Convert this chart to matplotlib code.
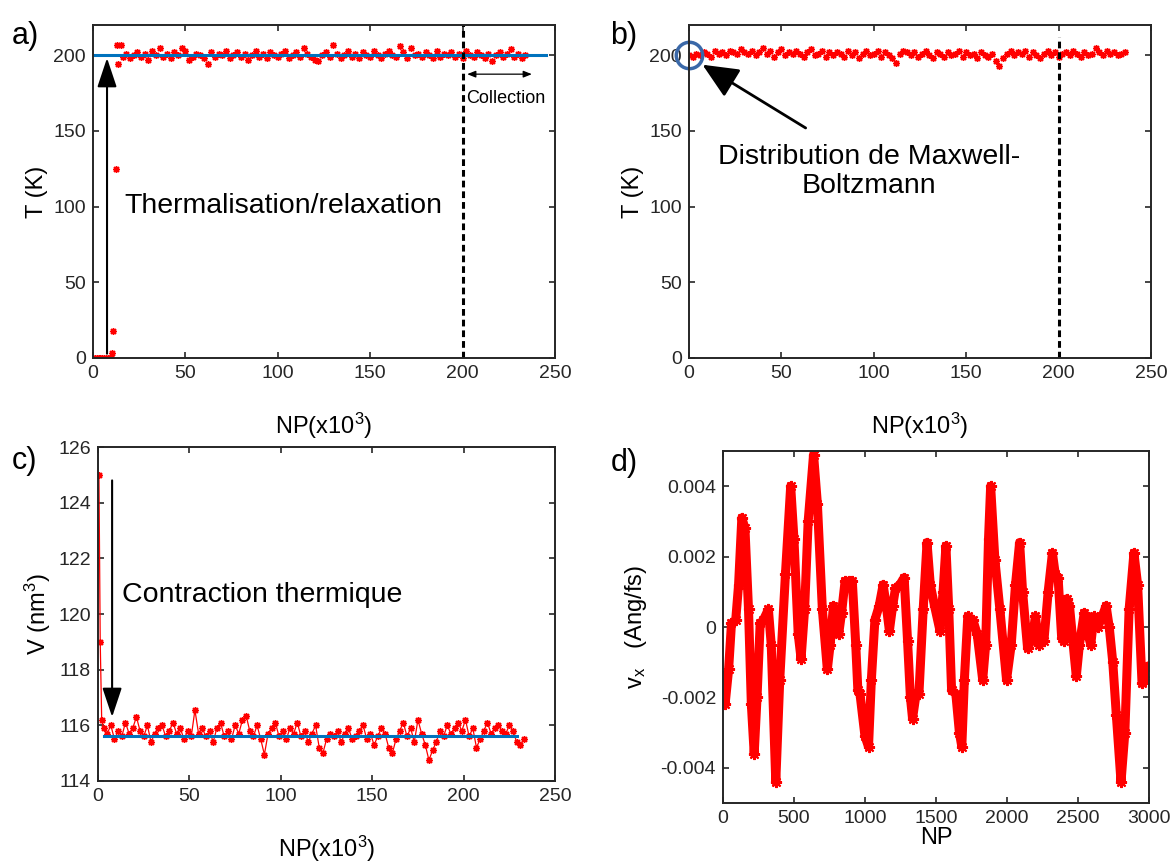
import numpy as np
import matplotlib
matplotlib.use('Agg')
from matplotlib import pyplot as plt

plt.rcParams['font.family'] = ['Liberation Sans', 'DejaVu Sans']
plt.rcParams['mathtext.fontset'] = 'custom'
plt.rcParams['mathtext.rm'] = 'Liberation Sans'
plt.rcParams['mathtext.it'] = 'Liberation Sans'

RED = '#ff0000'
BLUE = '#0072bd'
AX = '#262626'
STAR = (8, 2, 0)

# ---- panel a : temperature, thermalisation ----
a_start_x = [0, 1, 2, 3, 4, 5, 6, 7, 8, 9, 10, 10.5, 11, 12.5, 13, 13.5, 15]
a_start_t = [0, 0, 0, 0, 0, 0, 0, 0, 0, 0, 0, 3, 18, 125, 207, 194, 207]
a_band_x = np.arange(16, 235, 2)
a_band_t = [199, 201, 198, 200, 202, 199, 201, 197, 203, 200,
            205, 199, 201, 198, 202, 200, 205, 203, 197, 199,
            201, 200, 198, 194, 202, 199, 201, 200, 203, 198,
            200, 202, 199, 201, 197, 200, 203, 199, 201, 198,
            202, 200, 199, 201, 203, 198, 200, 202, 199, 205,
            201, 199, 197, 196, 200, 202, 199, 207, 201, 198,
            200, 203, 199, 201, 198, 202, 200, 199, 203, 200,
            198, 201, 203, 200, 199, 206, 202, 198, 205, 200,
            201, 199, 202, 200, 198, 203, 199, 201, 200, 202,
            199, 201, 198, 203, 200, 199, 202, 200, 198, 201,
            196, 200, 202, 199, 201, 204, 199, 201, 198, 200]
t_target = 200
a_line_x = [0, 245]

# ---- panel b : temperature, production run ----
b_x = np.arange(0, 237, 2)
b_t = [200, 199, 201, 200, 202, 201, 199, 203, 201, 202,
       200, 203, 202, 201, 204, 202, 201, 203, 200, 202,
       205, 201, 203, 199, 202, 204, 200, 202, 201, 203,
       201, 199, 202, 204, 200, 201, 203, 199, 202, 200,
       202, 201, 199, 203, 200, 202, 198, 201, 203, 200,
       201, 203, 199, 202, 200, 198, 195, 201, 203, 202,
       200, 202, 199, 201, 203, 200, 198, 202, 201, 199,
       202, 200, 201, 203, 199, 202, 200, 201, 198, 202,
       200, 199, 201, 196, 193, 198, 201, 203, 200, 202,
       201, 203, 199, 202, 200, 198, 201, 203, 200, 202,
       199, 201, 202, 200, 203, 201, 199, 202, 200, 201,
       205, 202, 200, 203, 201, 202, 200, 201, 202]

# ---- panel c : volume ----
c_start_x = [0.5, 1.2, 2.0]
c_start_v = [125.0, 119.0, 116.2]
c_band_x = np.arange(3, 234, 2)
c_band_v = [115.9, 115.7, 116.0, 115.5, 115.8, 115.6, 116.1, 115.7, 115.9, 116.3,
            115.8, 115.6, 116.0, 115.4, 115.7, 115.9, 116.0, 115.6, 115.8, 116.1,
            115.7, 115.9, 115.5, 115.8, 115.6, 116.55, 115.7, 115.9, 115.6, 115.8,
            115.4, 115.9, 116.1, 115.6, 115.8, 115.5, 116.0, 115.7, 116.2, 116.35,
            115.8, 115.6, 116.0, 115.5, 114.95, 115.7, 115.9, 116.1, 115.6, 115.8,
            115.5, 115.9, 115.7, 116.1, 115.6, 115.8, 115.4, 115.7, 116.0, 115.2,
            115.0, 115.5, 115.7, 115.6, 115.8, 115.4, 115.7, 115.9, 115.5, 115.6,
            115.8, 116.0, 115.5, 115.7, 115.3, 115.6, 115.9, 115.7, 115.2, 115.0,
            115.5, 115.8, 116.1, 115.6, 115.9, 115.4, 116.2, 115.7, 115.3, 114.75,
            115.1, 115.4, 115.8, 115.6, 116.0, 115.7, 115.9, 116.1, 115.8, 116.2,
            115.6, 115.9, 115.2, 115.5, 115.8, 116.1, 115.7, 115.9, 116.0, 115.8,
            115.7, 116.0, 115.8, 115.4, 115.3, 115.5]
v_mean = 115.62
c_line_x = [3, 229]

# ---- panel d : velocity component ----
d_np = [0, 15, 40, 60, 90, 110, 133, 155, 180, 200, 220, 240, 262, 285, 320,
        340, 372, 400, 440, 477, 500, 530, 550, 575, 600, 638, 665, 700, 735,
        755, 778, 800, 815, 835, 860, 890, 911, 935, 950, 965, 1000, 1025, 1045,
        1070, 1100, 1128, 1150, 1172, 1195, 1215, 1245, 1276, 1300, 1320, 1335,
        1360, 1380, 1410, 1437, 1460, 1490, 1528, 1550, 1570, 1590, 1610, 1640,
        1665, 1682, 1700, 1724, 1760, 1790, 1829, 1850, 1870, 1885, 1915, 1950,
        1997, 2030, 2060, 2089, 2110, 2145, 2180, 2200, 2225, 2260, 2290, 2320,
        2340, 2360, 2385, 2400, 2420, 2440, 2488, 2510, 2544, 2570, 2590, 2612,
        2640, 2670, 2698, 2720, 2745, 2770, 2803, 2830, 2860, 2894, 2920, 2951,
        2975, 3000]
d_vx = [-0.0014, -0.0022, -0.0012, 0.0001, 0.0002, 0.0012, 0.0031, 0.0028, 0.0005,
        -0.0022, -0.0036, -0.0020, 0.0001, 0.0002, 0.0005, -0.0005, -0.0044,
        -0.0015, 0.0015, 0.0040, 0.0025, -0.0002, -0.0009, 0.0005, 0.0030, 0.0049,
        0.0035, 0.0005, -0.0012, -0.0005, 0.0006, 0.0004, -0.0002, 0.0004, 0.0013,
        0.0013, 0.0013, -0.0005, -0.0018, -0.0019, -0.0031, -0.0034, -0.0015,
        0.0002, 0.0006, 0.0012, 0.0006, -0.0001, 0.0006, 0.0011, 0.0012, 0.0014,
        -0.0004, -0.0020, -0.0026, -0.0019, -0.0019, 0.0005, 0.0024, 0.0012,
        0.0006, -0.0001, 0.0010, 0.0023, 0.0005, -0.0018, -0.0019, -0.0030,
        -0.0034, -0.0015, 0.0003, 0.0002, -0.0002, -0.0015, -0.0005, 0.0025,
        0.0040, 0.0019, 0.0005, -0.0015, -0.0005, 0.0012, 0.0024, 0.0010,
        -0.0006, -0.0003, 0.0003, -0.0005, -0.0004, 0.0010, 0.0021, 0.0015,
        0.0014, -0.0003, -0.0004, 0.0008, 0.0006, -0.0014, -0.0005, 0.0004,
        -0.0002, -0.0005, 0.0003, 0.0000, 0.0003, 0.0006, 0.0000, -0.0010,
        -0.0025, -0.0044, -0.0030, 0.0005, 0.0021, 0.0012, -0.0016, -0.0015,
        -0.0011]


def style(ax):
    for s in ax.spines.values():
        s.set_color(AX)
        s.set_linewidth(1.4)
    ax.tick_params(direction='in', length=4, width=1.2, color=AX,
                   top=True, right=True, labelsize=14, labelcolor=AX, pad=5)


fig = plt.figure(figsize=(11.74, 8.67), dpi=100)
ax_a = fig.add_axes([0.0792, 0.5871, 0.3935, 0.3841])
ax_b = fig.add_axes([0.5869, 0.5871, 0.3935, 0.3841])
ax_c = fig.add_axes([0.0835, 0.0992, 0.3893, 0.3852])
ax_d = fig.add_axes([0.6158, 0.0738, 0.3629, 0.4060])

xl_np = r'NP(x10$^{3}$)'
LBL = 17
ANN = 20.5
mk = dict(marker=STAR, ms=5, mew=1.0, color=RED)

# a)
ax_a.plot(a_start_x, a_start_t, ls='none', **mk)
ax_a.plot(a_band_x, a_band_t, ls='none', **mk)
ax_a.plot(a_line_x, [t_target, t_target], color=BLUE, lw=2.2)
ax_a.plot([200, 200], [0, 220], color='k', lw=2.2, dashes=(2.2, 1.3))
ax_a.annotate('', xy=(7.6, t_target), xytext=(7.6, 1),
              arrowprops=dict(arrowstyle='-|>,head_length=0.9,head_width=0.3',
                              color='k', lw=1.5, mutation_scale=20))
ax_a.annotate('', xy=(239, 187.5), xytext=(201, 187.5),
              arrowprops=dict(arrowstyle='<|-|>,head_length=0.5,head_width=0.2',
                              color='k', lw=0.9, mutation_scale=10))
ax_a.text(202, 171.5, 'Collection', fontsize=13, va='center', ha='left')
ax_a.text(16.8, 100.5, 'Thermalisation/relaxation', fontsize=ANN, va='center', ha='left')
ax_a.set_xlim(0, 250)
ax_a.set_ylim(0, 220)
ax_a.set_xticks(range(0, 251, 50))
ax_a.set_yticks(range(0, 201, 50))
ax_a.set_xlabel(xl_np, fontsize=LBL, labelpad=21)
ax_a.set_ylabel('T (K)', fontsize=LBL, labelpad=4)
style(ax_a)

# b)
ax_b.plot(b_x, b_t, ls='none', **mk)
ax_b.plot([200, 200], [0, 212], color='k', lw=2.2, dashes=(2.2, 1.3))
ax_b.plot([0], [t_target], ls='none', marker='o', ms=19, mfc='none',
          mec='#3a68a8', mew=2.5, clip_on=False)
ax_b.annotate('', xy=(6, 194.7), xytext=(64.4, 151),
              arrowprops=dict(arrowstyle='-|>,head_length=1.0,head_width=0.45',
                              color='k', lw=2.0, mutation_scale=22))
ax_b.text(97.4, 123.5, 'Distribution de Maxwell-\nBoltzmann', fontsize=ANN,
          ha='center', va='center', linespacing=1.15)
ax_b.set_xlim(0, 250)
ax_b.set_ylim(0, 220)
ax_b.set_xticks(range(0, 251, 50))
ax_b.set_yticks(range(0, 201, 50))
ax_b.set_xlabel(xl_np, fontsize=LBL, labelpad=21)
ax_b.set_ylabel('T (K)', fontsize=LBL, labelpad=4)
style(ax_b)

# c)
c_x = list(c_start_x) + list(c_band_x)
c_v = list(c_start_v) + list(c_band_v)
ax_c.plot(c_x, c_v, lw=0.9, **mk)
ax_c.plot(c_line_x, [v_mean, v_mean], color=BLUE, lw=2.2)
ax_c.annotate('', xy=(7.7, 116.2), xytext=(7.7, 124.9),
              arrowprops=dict(arrowstyle='-|>,head_length=0.9,head_width=0.3',
                              color='k', lw=1.5, mutation_scale=20))
ax_c.text(13, 120.7, 'Contraction thermique', fontsize=ANN, va='center', ha='left')
ax_c.set_xlim(0, 250)
ax_c.set_ylim(114, 126)
ax_c.set_xticks(range(0, 251, 50))
ax_c.set_yticks(range(114, 127, 2))
ax_c.set_xlabel(xl_np, fontsize=LBL, labelpad=21)
ax_c.set_ylabel(r'V (nm$^{3}$)', fontsize=LBL, labelpad=4)
style(ax_c)

# d)
ax_d.plot(d_np, d_vx, color=RED, lw=6.5, marker=STAR, ms=8, mew=1.5,
          solid_joinstyle='round', solid_capstyle='round')
ax_d.set_xlim(0, 3000)
ax_d.set_ylim(-0.005, 0.005)
ax_d.set_xticks(range(0, 3001, 500))
ax_d.set_yticks([-0.004, -0.002, 0, 0.002, 0.004])
ax_d.set_yticklabels(['-0.004', '-0.002', '0', '0.002', '0.004'])
ax_d.set_xlabel('NP', fontsize=LBL, labelpad=0)
ax_d.set_ylabel(r'v$_{x}$   (Ang/fs)', fontsize=LBL, labelpad=8)
style(ax_d)

# panel letters
fig.text(0.010, 0.958, 'a)', fontsize=22, va='center', ha='left')
fig.text(0.520, 0.958, 'b)', fontsize=22, va='center', ha='left')
fig.text(0.010, 0.468, 'c)', fontsize=22, va='center', ha='left')
fig.text(0.520, 0.466, 'd)', fontsize=22, va='center', ha='left')

fig.savefig('out.png', dpi=100)
